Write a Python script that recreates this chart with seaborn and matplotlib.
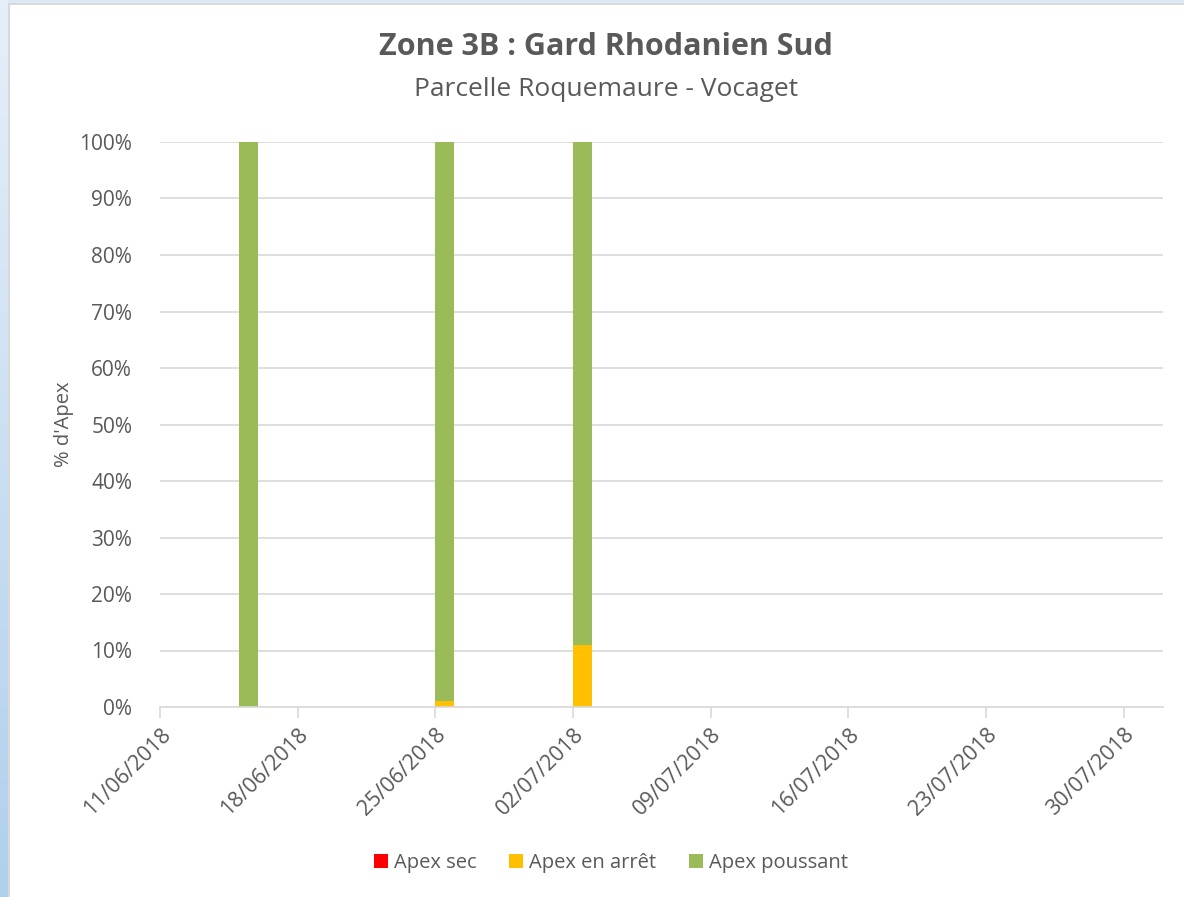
# -*- coding: utf-8 -*-
import numpy as np
import pandas as pd
import matplotlib
matplotlib.use("Agg")
import matplotlib.pyplot as plt
import matplotlib.dates as mdates
from matplotlib.patches import Rectangle
from matplotlib.ticker import FuncFormatter
import seaborn as sns

# ===========================================
# DONNEES
# ===========================================
dates_releve = ["2018-06-15", "2018-06-25", "2018-07-02"]
apex_sec = [0, 0, 0]
apex_arret = [0, 1, 11]
apex_poussant = [100, 99, 89]

series = ["Apex sec", "Apex en arrêt", "Apex poussant"]
couleurs = {"Apex sec": "#FF0000", "Apex en arrêt": "#FFC000", "Apex poussant": "#9BBB59"}
ticks_dates = ["2018-06-11", "2018-06-18", "2018-06-25", "2018-07-02",
               "2018-07-09", "2018-07-16", "2018-07-23", "2018-07-30"]

titre = "Zone 3B : Gard Rhodanien Sud"
sous_titre = "Parcelle Roquemaure - Vocaget"

# ===========================================
# STYLE
# ===========================================
sns.set_theme(style="white")
plt.rcParams["font.family"] = ["Open Sans", "DejaVu Sans"]
GRIS_TEXTE = "#595959"
GRIS_LIGNE = "#d9d9d9"

df = pd.DataFrame({
    "date": pd.to_datetime(dates_releve),
    "Apex sec": apex_sec,
    "Apex en arrêt": apex_arret,
    "Apex poussant": apex_poussant,
})

fig = plt.figure(figsize=(11.84, 8.97), dpi=100, facecolor="#dce8f5")

# fond type fenetre Excel
fig.patches.append(Rectangle((8 / 1184, 0), 1, 1 - 3 / 897, transform=fig.transFigure,
                             facecolor=GRIS_LIGNE, edgecolor="none", zorder=-2))
fig.patches.append(Rectangle((10 / 1184, 0), 1, 1 - 5 / 897, transform=fig.transFigure,
                             facecolor="white", edgecolor="none", zorder=-1))
bande = fig.add_axes([0, 0, 8 / 1184, 1])
bande.imshow(np.linspace(0, 1, 100).reshape(-1, 1), aspect="auto",
             cmap=matplotlib.colors.LinearSegmentedColormap.from_list("b", ["#e6eff9", "#b0d0ec"]),
             extent=[0, 1, 0, 1])
bande.axis("off")

ax = fig.add_axes([160 / 1184, 1 - 707 / 897, (1163 - 160) / 1184, (707 - 142) / 897])
ax.set_facecolor("none")
ax.set_zorder(5)

# barres empilees (une barre = un jour)
x = mdates.date2num(df["date"])
bas = np.zeros(len(df))
for s in series:
    ax.bar(x, df[s], width=0.97, bottom=bas, align="edge",
           color=couleurs[s], label=s, zorder=3, linewidth=0)
    bas = bas + df[s].values

ax.set_xlim(mdates.date2num(pd.Timestamp("2018-06-11")),
            mdates.date2num(pd.Timestamp("2018-08-01")))
ax.set_ylim(0, 100)
ax.set_yticks(np.arange(0, 101, 10))
ax.yaxis.set_major_formatter(FuncFormatter(lambda v, p: f"{int(v)}%"))
ax.grid(axis="y", color=GRIS_LIGNE, linewidth=1.2, zorder=0)

ax.set_xticks(mdates.date2num(pd.to_datetime(ticks_dates)))
ax.set_xticklabels(pd.to_datetime(ticks_dates).strftime("%d/%m/%Y"),
                   rotation=45, ha="right", rotation_mode="anchor")
ax.tick_params(axis="x", bottom=True, length=8, width=1.2, color=GRIS_LIGNE,
               labelcolor=GRIS_TEXTE, labelsize=15.5, pad=4)
ax.tick_params(axis="y", left=False, labelcolor=GRIS_TEXTE, labelsize=15, pad=14)

sns.despine(ax=ax, left=True, top=True, right=True)
ax.spines["bottom"].set_color(GRIS_LIGNE)
ax.spines["bottom"].set_linewidth(1.2)
ax.spines["bottom"].set_zorder(4)

ax.set_ylabel("% d'Apex", color=GRIS_TEXTE, fontsize=14.5, labelpad=4)

fig.text(606 / 1184, 1 - 47 / 897, titre, ha="center", va="center",
         fontsize=22, fontweight="bold", color=GRIS_TEXTE)
fig.text(606 / 1184, 1 - 89 / 897, sous_titre, ha="center", va="center",
         fontsize=19, color=GRIS_TEXTE)

leg = fig.legend(*ax.get_legend_handles_labels(), loc="center",
                 bbox_to_anchor=(611 / 1184, 1 - 863 / 897), ncol=3, frameon=False,
                 fontsize=14.5, handlelength=0.7, handleheight=0.7, handletextpad=0.3,
                 columnspacing=1.6, labelcolor=GRIS_TEXTE)

fig.savefig("out.png", dpi=100, facecolor=fig.get_facecolor())
